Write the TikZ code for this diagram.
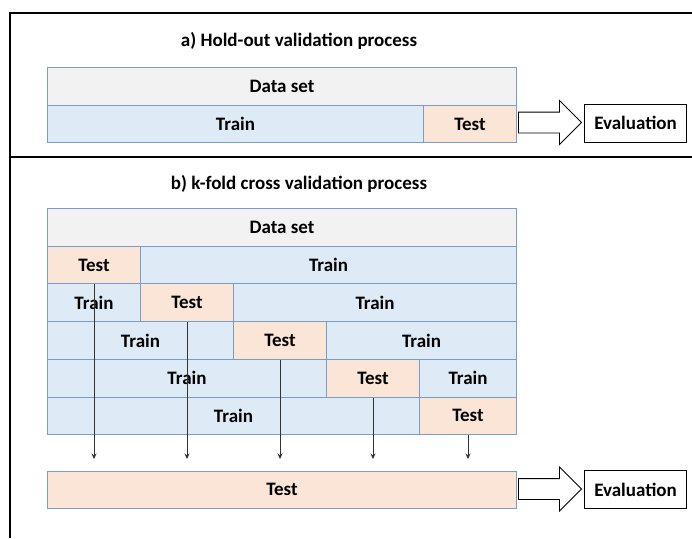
\documentclass[tikz,border=0pt]{standalone}
\usepackage{fontspec}
\setmainfont{Carlito}
\usetikzlibrary{shapes.arrows,arrows.meta}
\definecolor{dsfill}{HTML}{F2F2F2}
\definecolor{trfill}{HTML}{DEEBF7}
\definecolor{tefill}{HTML}{FBE5D6}
\definecolor{cellline}{HTML}{7A9CC6}
\begin{document}
\begin{tikzpicture}[x=1pt,y=-1pt,
  lbl/.style={font=\bfseries\fontsize{19}{22}\selectfont},
  cell/.style={lbl, draw=cellline, line width=1pt, anchor=north west, inner sep=0pt, minimum height=37.7pt},
  dscell/.style={cell, fill=dsfill},
  trcell/.style={cell, fill=trfill},
  tecell/.style={cell, fill=tefill},
  evalbox/.style={lbl, draw=black, line width=1.1pt, fill=white, anchor=north west, inner sep=0pt, minimum width=102pt, minimum height=38pt},
  blockarrow/.style={single arrow, draw=black, line width=0.9pt, fill=white, anchor=west, inner sep=0pt,
     minimum height=63pt, minimum width=43pt, single arrow head extend=11.5pt, single arrow head indent=0pt, text width=0pt, text height=20pt},
  framelinestyle/.style={line width=2pt, black},
  downarrow/.style={line width=0.7pt, black!80, -{Stealth[length=5.5pt,width=5pt]}},
  titlestyle/.style={lbl}
]
\useasboundingbox (0,0) rectangle (692,538);
% frame
\coordinate (ftl) at (10,13);
\coordinate (ftr) at (692,13);
\coordinate (fbl) at (10,538);
\coordinate (sl) at (10,157);
\coordinate (sr) at (692,157);
\draw[framelinestyle] (ftr) -- (ftl) -- (fbl);
\draw[framelinestyle] (sl) -- (sr);

% part a
\node[titlestyle] (tA) at (299,41) {a) Hold-out validation process};
\node[dscell, minimum width=469pt] (dsA) at (47,67) {Data set};
\node[trcell, minimum width=376pt] (trA) at (47,104.7) {Train};
\node[tecell, minimum width=93pt] (teA) at (423,104.7) {Test};
\node[blockarrow] (arA) at (518,122.5) {};
\node[evalbox] (evA) at (584,103.5) {Evaluation};

% part b
\node[titlestyle] (tB) at (299,184) {b) k-fold cross validation process};
\node[dscell, minimum width=469pt] (dsB) at (47,208) {Data set};
% row 1
\node[tecell, minimum width=93pt] (t1) at (47,245.7) {Test};
\node[trcell, minimum width=376pt] (r1b) at (140,245.7) {Train};
% row 2
\node[trcell, minimum width=93pt] (r2a) at (47,283.4) {Train};
\node[tecell, minimum width=93pt] (t2) at (140,283.4) {Test};
\node[trcell, minimum width=283pt] (r2b) at (233,283.4) {Train};
% row 3
\node[trcell, minimum width=186pt] (r3a) at (47,321.1) {Train};
\node[tecell, minimum width=93pt] (t3) at (233,321.1) {Test};
\node[trcell, minimum width=190pt] (r3b) at (326,321.1) {Train};
% row 4
\node[trcell, minimum width=279pt] (r4a) at (47,358.8) {Train};
\node[tecell, minimum width=93pt] (t4) at (326,358.8) {Test};
\node[trcell, minimum width=97pt] (r4b) at (419,358.8) {Train};
% row 5
\node[trcell, minimum width=372pt] (r5a) at (47,396.5) {Train};
\node[tecell, minimum width=97pt] (t5) at (419,396.5) {Test};

\coordinate (tipline) at (0,459);
\foreach \n in {t1,t2,t3,t4,t5}
  \draw[downarrow] (\n.south) -- (\n.south |- tipline);

\node[tecell, minimum width=469pt] (teB) at (47,470.5) {Test};
\node[blockarrow] (arB) at (518,489) {};
\node[evalbox] (evB) at (584,470) {Evaluation};
\end{tikzpicture}
\end{document}
